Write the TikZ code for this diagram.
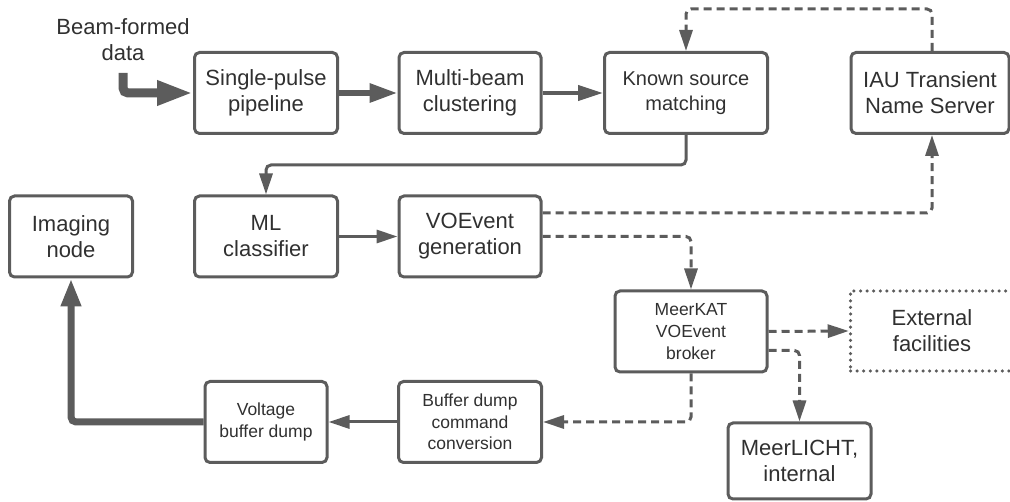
\documentclass[tikz,border=0pt]{standalone}
\usepackage{fontspec}
\setmainfont{Liberation Sans}
\usetikzlibrary{arrows.meta}
\definecolor{linegrey}{RGB}{92,92,92}
\definecolor{textgrey}{RGB}{48,48,48}

\begin{document}
\begin{tikzpicture}[x=1pt, y=-1pt,
    box/.style={draw=linegrey, line width=3pt, rounded corners=5pt, align=center,
      text=textgrey, inner sep=0pt, minimum height=81pt},
    bigfont/.style={font=\fontsize{22}{26}\selectfont},
    midfont/.style={font=\fontsize{20}{25}\selectfont},
    smallfont/.style={font=\fontsize{17.5}{21.7}\selectfont},
    link/.style={draw=linegrey, line width=3pt, rounded corners=5pt,
      -{Triangle[length=21pt, width=13pt]}},
    dashedlink/.style={link, dash pattern=on 8pt off 5pt},
  ]
  \useasboundingbox (0,0) rectangle (1010,502);

  % top row
  \node[text=textgrey, bigfont, align=center] (bfd) at (123,40) {Beam-formed\\data};
  \coordinate (bfdin) at (123,73);
  \node[box, bigfont, minimum width=143pt] (sp) at (266,93) {Single-pulse\\pipeline};
  \node[box, bigfont, minimum width=142pt] (mb) at (470,93) {Multi-beam\\clustering};
  \node[box, midfont, minimum width=163pt] (ks) at (686,93) {Known source\\matching};
  \node[box, bigfont, minimum width=158pt] (tns) at (930,93) {IAU Transient\\Name Server};

  % middle row
  \node[box, bigfont, minimum width=123pt] (img) at (71,236.5) {Imaging\\node};
  \node[box, bigfont, minimum width=143pt] (ml) at (266,236.5) {ML\\classifier};
  \node[box, bigfont, minimum width=142pt] (voe) at (470,236.5) {VOEvent\\generation};
  \node[box, smallfont, minimum width=152pt] (bro) at (691,331.5) {MeerKAT\\VOEvent\\broker};
  \node[draw=linegrey, line width=3.5pt, line cap=round, dash pattern=on 0pt off 6.6pt,
    text=textgrey, bigfont, align=center, minimum width=163pt, minimum height=80pt]
    (ext) at (932,331) {External\\facilities};

  % bottom row
  \node[box, smallfont, minimum width=122pt] (vbd) at (266,422) {Voltage\\buffer dump};
  \node[box, smallfont, minimum width=143pt] (bdc) at (470,422) {Buffer dump\\command\\conversion};
  \node[box, bigfont, minimum width=143pt, minimum height=76pt] (licht) at (799.5,461) {MeerLICHT,\\internal};

  % solid connectors
  \draw[link, line width=9pt, -{Triangle[length=36pt, width=23pt]}] (bfdin) |- (sp.west);
  \draw[link, line width=6pt, -{Triangle[length=28pt, width=18pt]}] (sp.east) -- (mb.west);
  \draw[link, line width=4pt, -{Triangle[length=25pt, width=15pt]}] (mb.east) -- (ks.west);
  \draw[link] (ks.south) -- ++(0,30) -| (ml.north);
  \draw[link] (ml.east) -- (voe.west);
  \draw[link] (bdc.west) -- (vbd.east);
  \draw[link, line width=7pt, -{Triangle[length=28pt, width=19pt]}] (vbd.west) -| (img.south);

  % dashed connectors
  \draw[dashedlink] ([xshift=2pt]tns.north) -- ++(0,-42) -| (ks.north);
  \draw[dashedlink] ([yshift=23.5pt]voe.east) -| ([xshift=2pt]tns.south);
  \draw[dashedlink] (voe.east) -| (bro.north);
  \draw[dashedlink] (bro.east) -- (ext.west);
  \draw[dashedlink] ([yshift=-19pt]bro.east) -| (licht.north);
  \draw[dashedlink] (bro.south) |- (bdc.east);
\end{tikzpicture}
\end{document}
